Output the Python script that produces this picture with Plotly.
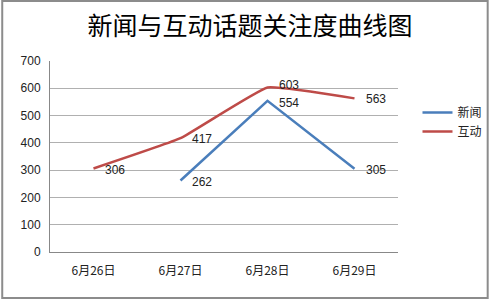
import plotly.graph_objects as go

categories = ["6月26日", "6月27日", "6月28日", "6月29日"]
news = [None, 262, 554, 305]
interact = [306, 417, 603, 563]
y_ticks = [0, 100, 200, 300, 400, 500, 600, 700]

W, H = 500, 299
L, R, T, B = 50, 93, 61, 47
pw, ph = W - L - R, H - T - B

font = "Noto Sans CJK SC, Liberation Sans, sans-serif"

fig = go.Figure()
fig.add_trace(go.Scatter(
    x=categories, y=news, name="新闻", mode="lines",
    line=dict(color="#4A7EBB", width=2.5)))
fig.add_trace(go.Scatter(
    x=categories, y=interact, name="互动", mode="lines",
    line=dict(color="#BE4B48", width=2.5, shape="spline", smoothing=0.3)))

# data labels, right of each point
for series, dy in ((news, -2), (interact, 2)):
    for c, v in zip(categories, series):
        if v is None:
            continue
        fig.add_annotation(x=c, y=v, text=str(v), showarrow=False,
                           xanchor="left", yanchor="middle", xshift=9,
                           yshift=(dy if c == "6月28日" else -1),
                           font=dict(size=12, color="#222",
                                     family="Liberation Sans, Arial, sans-serif"))

def px(x):
    return (x - L) / pw

def py(y):
    return (H - B - y) / ph

fig.add_shape(type="rect", xref="paper", yref="paper",
              x0=px(1), x1=px(W - 1), y0=py(H - 1), y1=py(1),
              line=dict(color="#8c8c8c", width=2), layer="below")

fig.update_layout(
    width=W, height=H,
    margin=dict(l=L, r=R, t=T, b=B),
    paper_bgcolor="white", plot_bgcolor="white",
    title=dict(text="新闻与互动话题关注度曲线图", x=0.5, xanchor="center",
               y=1 - 26 / H, yanchor="middle",
               font=dict(family=font, size=25, color="black")),
    font=dict(family="Liberation Sans, Arial, sans-serif", size=12, color="#222"),
    showlegend=True,
    legend=dict(x=px(427), y=py(98), xanchor="left", yanchor="top",
                font=dict(size=12, color="#222", family=font), tracegroupgap=4,
                bgcolor="rgba(0,0,0,0)"),
    xaxis=dict(type="category", categoryorder="array", categoryarray=categories,
               range=[-0.5, 3.5], showgrid=False, showline=True,
               linecolor="#888", linewidth=1, ticks="",
               tickfont=dict(size=12, family=font), ticklabelstandoff=8),
    yaxis=dict(range=[0, 700], tickvals=y_ticks, showgrid=True, gridcolor="#b0b0b0",
               gridwidth=1, showline=True, linecolor="#888", linewidth=1,
               zeroline=False, ticks="", tickfont=dict(size=12), ticklabelstandoff=6),
)

fig.write_html("out.html")
